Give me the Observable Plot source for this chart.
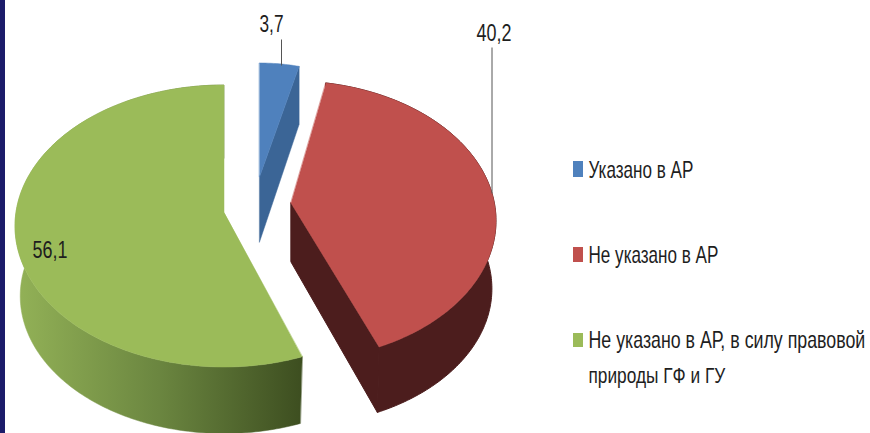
<!DOCTYPE html>
<html>
<head>
<meta charset="utf-8">
<script src="https://cdn.jsdelivr.net/npm/d3@7"></script>
<script src="https://cdn.jsdelivr.net/npm/@observablehq/plot@0.6"></script>
<style>
html,body{margin:0;padding:0;background:#fff;}
#bar{position:absolute;left:0;top:0;width:5px;height:433px;background:#1c1c6a;}
#chart{position:absolute;left:0;top:0;}
svg{display:block;}
</style>
</head>
<body>
<div id="chart"></div>
<div id="bar"></div>
<script>
// Data
const categories = ["Указано в АР", "Не указано в АР", "Не указано в АР, в силу правовой\nприроды ГФ и ГУ"];
const shares = [3.7, 40.2, 56.1];
const valueLabels = ["3,7", "40,2", "56,1"];
const topColors = ["#4f81bd", "#c0504d", "#9bbb59"];

// Styles and 3D-view layout (not data)
const wallColors = ["#3b6596", "#4c1d1d", "url(#greenWall)"];
const views = [
  {ax: 259.5, ay: 177, cy: 188, R: 172, ry: 125, depth: 58, apexDepth: 65, shrink: 1, rot: 0},
  {ax: 291, ay: 203, cy: 220.7, R: 205, ry: 139.8, depth: 68, apexDepth: 59, shrink: 0.98, rot: -3.5},
  {ax: 224, ay: 212, cy: 226, R: 209, ry: 141, depth: 70, apexDepth: 70, shrink: 0.975, rot: 0}
];
const labelPos = [
  {x: 271, y: 31, w: 24, x1: 281, y1: 39, x2: 281, y2: 65},
  {x: 493.5, y: 40, w: 35, x1: 491.5, y1: 47, x2: 491.5, y2: 193},
  {x: 49.5, y: 257, w: 35}
];
const legendPos = [
  {sy1: 161, sy2: 177, ty: 177, w: 105},
  {sy1: 247, sy2: 262, ty: 262, w: 130},
  {sy1: 333, sy2: 347, ty: 347, w: 277}
];
const legendLine2 = {dy: 35, w: 137};
const swatch = {x1: 573, x2: 583};
const legendX = 588;

// Slice angles from the values
const total = d3.sum(shares);
let acc = 0;
const slices = shares.map((v, i) => {
  const a0 = acc / total * 2 * Math.PI;
  acc += v;
  return {i, a0, a1: acc / total * 2 * Math.PI};
});

function project(view, a, lower) {
  const t = a + view.rot * Math.PI / 180;
  const s = lower ? view.shrink : 1;
  return {
    x: view.ax + s * view.R * Math.sin(t),
    y: view.cy + (lower ? view.depth : 0) - s * view.ry * Math.cos(t)
  };
}
function arc(slice, lower) {
  const n = Math.ceil((slice.a1 - slice.a0) / (Math.PI / 180));
  return d3.range(n + 1).map(j => project(views[slice.i], slice.a0 + (slice.a1 - slice.a0) * j / n, lower));
}
function sector(slice) {
  const v = views[slice.i];
  return arc(slice, false).map(p => ({x1: v.ax, y1: v.ay, x2: p.x, y2: p.y}));
}
function outerWall(slice) {
  const top = arc(slice, false), low = arc(slice, true);
  return top.map((p, j) => ({x1: p.x, y1: p.y, x2: low[j].x, y2: low[j].y}));
}
function cutWall(slice) {
  const v = views[slice.i];
  const e = project(v, slice.a1, false), eb = project(v, slice.a1, true);
  return [
    {x1: v.ax, y1: v.ay, x2: v.ax, y2: v.ay + v.apexDepth},
    {x1: e.x, y1: e.y, x2: eb.x, y2: eb.y}
  ];
}
const band = (rows, fill, strokeWidth = 0.5) => Plot.area(rows, {x1: "x1", y1: "y1", x2: "x2", y2: "y2", fill, stroke: fill, strokeWidth});

const [blue, red, green] = slices;
const defs = () => {
  const d = d3.create("svg:defs");
  const g = d.append("linearGradient").attr("id", "greenWall");
  [[0, "#93b257"], [0.5, "#6b8640"], [1, "#3d4e20"]].forEach(([o, c]) =>
    g.append("stop").attr("offset", o).attr("stop-color", c));
  return d.node();
};

const fontFamily = "'Liberation Sans',sans-serif";
const chart = Plot.plot({
  width: 870,
  height: 433,
  margin: 0,
  x: {domain: [0, 870], range: [0, 870], axis: null},
  y: {domain: [0, 433], range: [0, 433], axis: null},
  style: {fontFamily, background: "#fff", color: "#1e1e1e"},
  marks: [
    defs,
    band(outerWall(green), wallColors[2]),
    band(sector(green), topColors[2]),
    band(cutWall(red), wallColors[1], 1),
    band(outerWall(red), wallColors[1], 1),
    band(sector(red), topColors[1]),
    band(cutWall(blue), wallColors[0]),
    band(sector(blue), topColors[0]),
    Plot.link(labelPos.filter(d => d.x1), {x1: "x1", y1: "y1", x2: "x2", y2: "y2", stroke: "#555", strokeWidth: 1}),
    Plot.text(labelPos, {x: "x", y: "y", text: (d, i) => valueLabels[i], fontSize: 24, lineAnchor: "bottom", fill: "#1e1e1e"}),
    Plot.rect(legendPos, {x1: () => swatch.x1, x2: () => swatch.x2, y1: "sy1", y2: "sy2", fill: (d, i) => topColors[i]}),
    Plot.text(legendPos, {x: () => legendX, y: "ty", text: (d, i) => categories[i].split("\n")[0], textAnchor: "start", lineAnchor: "bottom", fontSize: 23, fill: "#1e1e1e"}),
    Plot.text([legendPos[2]], {x: () => legendX, y: d => d.ty + legendLine2.dy, text: () => categories[2].split("\n")[1], textAnchor: "start", lineAnchor: "bottom", fontSize: 23, fill: "#1e1e1e"})
  ]
});
document.getElementById("chart").appendChild(chart);
// Condense the installed font to the reference's narrow lettering
const widths = new Map([
  ...valueLabels.map((t, i) => [t, labelPos[i].w]),
  ...categories.map((t, i) => [t.split("\n")[0], legendPos[i].w]),
  [categories[2].split("\n")[1], legendLine2.w]
]);
d3.select(chart).selectAll("text").each(function () {
  const w = widths.get(this.textContent);
  if (w) this.setAttribute("transform", `${this.getAttribute("transform") || ""} scale(${w / this.getComputedTextLength()},1)`);
});
</script>
</body>
</html>
